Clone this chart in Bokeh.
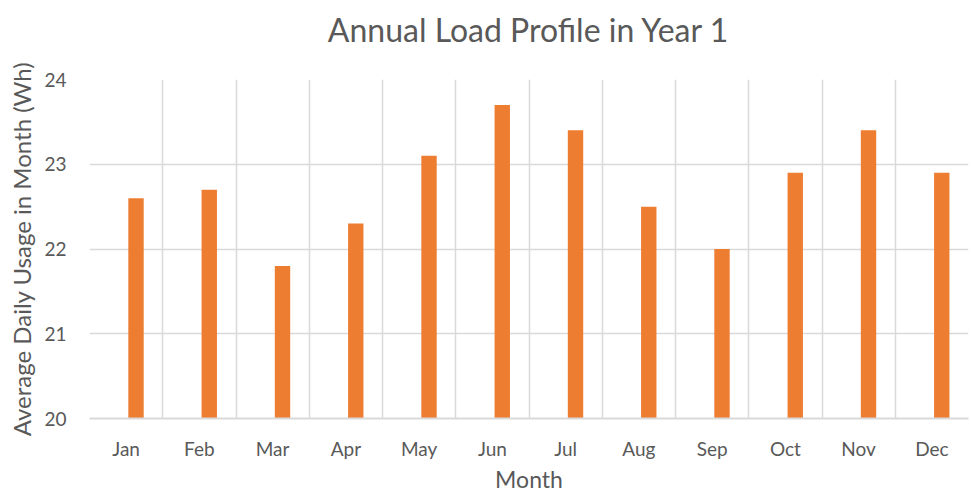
import numpy as np
from bokeh.plotting import figure
from bokeh.models import ColumnDataSource, FixedTicker, Range1d, LinearAxis
from bokeh.transform import dodge
from bokeh.embed import file_html
from bokeh.resources import INLINE

months = ["Jan", "Feb", "Mar", "Apr", "May", "Jun", "Jul", "Aug", "Sep", "Oct", "Nov", "Dec"]
usage = [22.6, 22.7, 21.8, 22.3, 23.1, 23.7, 23.4, 22.5, 22.0, 22.9, 23.4, 22.9]
y_ticks = [20, 21, 22, 23, 24]
title_text = "Annual Load Profile in Year 1"

FONT = "Lato"
TXT = "#595959"
GRID = "#D9D9D9"
ORANGE = "#ED7D31"

pos = [i + 0.5 for i in range(len(months))]
src = ColumnDataSource(data=dict(x=pos, top=usage, m=months))

p = figure(width=969, height=495, output_backend="svg", toolbar_location=None,
           x_range=Range1d(0, 12), y_range=Range1d(20, 24),
           min_border_left=89, min_border_right=1, min_border_top=79, min_border_bottom=77)
p.outline_line_color = None
p.background_fill_color = "white"

p.vbar(x=dodge("x", 0.135, range=p.x_range), top="top", bottom=20, width=0.21,
       source=src, fill_color=ORANGE, line_color=None)

# chart title: label of an invisible axis above the frame
top_axis = LinearAxis(ticker=FixedTicker(ticks=[]),
                      axis_line_color=None,
                      major_tick_line_color=None, minor_tick_line_color=None,
                      major_label_standoff=0,
                      axis_label=title_text, axis_label_standoff=31,
                      axis_label_text_font=FONT, axis_label_text_font_size="32px",
                      axis_label_text_font_style="normal", axis_label_text_color=TXT)
p.add_layout(top_axis, "above")

# x axis (the one below the frame)
xa = p.below[0]
xa.ticker = FixedTicker(ticks=pos)
xa.major_label_overrides = {v: m for v, m in zip(pos, months)}
xa.major_tick_line_color = None
xa.minor_tick_line_color = None
xa.axis_line_color = GRID
xa.axis_line_width = 2
xa.major_label_text_font = FONT
xa.major_label_text_font_size = "19px"
xa.major_label_text_color = TXT
xa.major_label_standoff = 12
xa.axis_label = "Month"
xa.axis_label_text_font = FONT
xa.axis_label_text_font_size = "23px"
xa.axis_label_text_font_style = "normal"
xa.axis_label_text_color = TXT
xa.axis_label_standoff = 2

# y axis
ya = p.left[0]
ya.ticker = FixedTicker(ticks=y_ticks)
ya.major_tick_line_color = None
ya.minor_tick_line_color = None
ya.axis_line_color = None
ya.major_label_text_font = FONT
ya.major_label_text_font_size = "19px"
ya.major_label_text_color = TXT
ya.major_label_standoff = 17
ya.axis_label = "Average Daily Usage in Month (Wh)"
ya.axis_label_text_font = FONT
ya.axis_label_text_font_size = "24px"
ya.axis_label_text_font_style = "normal"
ya.axis_label_text_color = TXT
ya.axis_label_standoff = 5

# grids
p.xgrid.ticker = FixedTicker(ticks=list(range(0, 13)))
p.xgrid.grid_line_color = GRID
p.xgrid.grid_line_width = 1.5
p.ygrid.ticker = FixedTicker(ticks=y_ticks)
p.ygrid.grid_line_color = GRID
p.ygrid.grid_line_width = 1.5

open("out.html", "w").write(file_html(p, INLINE))
